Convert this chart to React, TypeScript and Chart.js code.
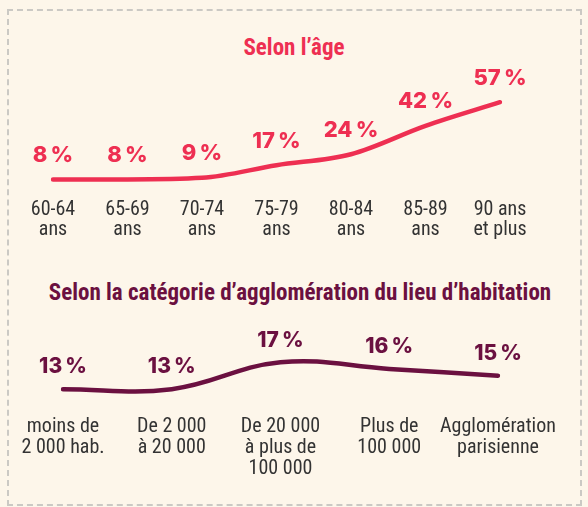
import React, { useEffect, useRef } from "react";
import { Chart, registerables } from "chart.js";

Chart.register(...registerables);

const ageCategories: string[][] = [
  ["60-64", "ans"],
  ["65-69", "ans"],
  ["70-74", "ans"],
  ["75-79", "ans"],
  ["80-84", "ans"],
  ["85-89", "ans"],
  ["90 ans", "et plus"],
];
const ageValues: number[] = [8, 8, 9, 17, 24, 42, 57];

const aggloCategories: string[][] = [
  ["moins de", "2 000 hab."],
  ["De 2 000", "à 20 000"],
  ["De 20 000", "à plus de", "100 000"],
  ["Plus de", "100 000"],
  ["Agglomération", "parisienne"],
];
const aggloValues: number[] = [13, 13, 17, 16, 15];

const titleAge = "Selon l’âge";
const titleAgglo = "Selon la catégorie d’agglomération du lieu d’habitation";

const RED = "#ee2f52";
const MAROON = "#6b1040";
const BG = "#fdf6ea";
const COND = "Roboto, 'Open Sans', sans-serif";
const VALUE_FONT = "Inter, Lato, sans-serif";

const valueLabelPlugin = (color: string, offset: number, size: number) => ({
  id: "valueLabels",
  afterDatasetsDraw(chart: any) {
    const ctx = chart.ctx;
    const meta = chart.getDatasetMeta(0);
    const data = chart.data.datasets[0].data as number[];
    ctx.save();
    ctx.fillStyle = color;
    ctx.font = `800 ${size}px ${VALUE_FONT}`;
    try {
      (ctx as any).letterSpacing = "-0.5px";
    } catch (e) {}
    ctx.textAlign = "center";
    ctx.textBaseline = "middle";
    meta.data.forEach((pt: any, i: number) => {
      ctx.fillText(`${data[i]}\u202f%`, pt.x, pt.y - offset);
    });
    ctx.restore();
  },
});

function LineChart(props: {
  labels: string[][];
  values: number[];
  color: string;
  min: number;
  max: number;
  padding: { top: number; left: number; right: number; bottom: number };
  width: number;
  height: number;
  labelOffset: number;
  labelSize: number;
  tickLineHeight: number;
  axisHeight: number;
  monotone: boolean;
}) {
  const ref = useRef<HTMLCanvasElement | null>(null);
  useEffect(() => {
    if (!ref.current) return;
    const chart = new Chart(ref.current, {
      type: "line",
      data: {
        labels: props.labels,
        datasets: [
          {
            data: props.values,
            borderColor: props.color,
            borderWidth: 4.5,
            borderCapStyle: "round",
            borderJoinStyle: "round",
            pointRadius: 0,
            pointHoverRadius: 0,
            cubicInterpolationMode: props.monotone ? "monotone" : "default",
            tension: 0.4,
            fill: false,
          },
        ],
      },
      options: {
        animation: false,
        responsive: false,
        maintainAspectRatio: false,
        events: [],
        layout: { padding: props.padding },
        plugins: {
          legend: { display: false },
          title: { display: false },
          tooltip: { enabled: false },
        },
        scales: {
          x: {
            type: "category",
            offset: false,
            grid: { display: false, drawTicks: false },
            border: { display: false },
            afterFit: (scale: any) => {
              scale.height = props.axisHeight;
            },
            ticks: {
              padding: 8,
              maxRotation: 0,
              autoSkip: false,
              color: "#333333",
              font: { family: COND, size: 20, weight: "400 condensed" as any, lineHeight: props.tickLineHeight },
            },
          },
          y: {
            display: false,
            min: props.min,
            max: props.max,
          },
        },
      },
      plugins: [valueLabelPlugin(props.color, props.labelOffset, props.labelSize)],
    });
    return () => chart.destroy();
  }, []);
  return (
    <canvas
      ref={ref}
      width={props.width}
      height={props.height}
      style={{ display: "block", width: props.width, height: props.height }}
    />
  );
}

const titleStyle = {
  position: "absolute" as const,
  left: 0,
  width: 588,
  textAlign: "center" as const,
  fontFamily: COND,
  fontStretch: "condensed",
  fontWeight: 700,
  fontSize: 23,
  lineHeight: "28px",
  whiteSpace: "nowrap" as const,
};

export default function App() {
  return (
    <div
      style={{
        position: "absolute",
        left: 0,
        top: 0,
        width: 588,
        height: 507,
        background: BG,
        overflow: "hidden",
      }}
    >
      <div
        style={{
          position: "absolute",
          left: 7,
          top: 9,
          width: 575,
          height: 497,
          border: "2px dashed #cbc9c4",
          boxSizing: "border-box",
        }}
      />
      <div style={{ ...titleStyle, top: 34, color: RED }}>{titleAge}</div>
      <div style={{ ...titleStyle, left: 6, top: 279, color: MAROON }}>{titleAgglo}</div>
      <div style={{ position: "absolute", left: 0, top: 0 }}>
        <LineChart
          labels={ageCategories}
          values={ageValues}
          color={RED}
          min={0}
          max={80}
          padding={{ top: 66, left: 53, right: 88, bottom: 10 }}
          width={588}
          height={250}
          labelOffset={24}
          labelSize={22}
          tickLineHeight={1.0}
          axisHeight={48}
          monotone={true}
        />
      </div>
      <div style={{ position: "absolute", left: 0, top: 250 }}>
        <LineChart
          labels={aggloCategories}
          values={aggloValues}
          color={MAROON}
          min={10.2}
          max={30.1}
          padding={{ top: 24, left: 63, right: 90, bottom: 28 }}
          width={588}
          height={257}
          labelOffset={22}
          labelSize={21}
          tickLineHeight={1.05}
          axisHeight={71}
          monotone={false}
        />
      </div>
    </div>
  );
}
